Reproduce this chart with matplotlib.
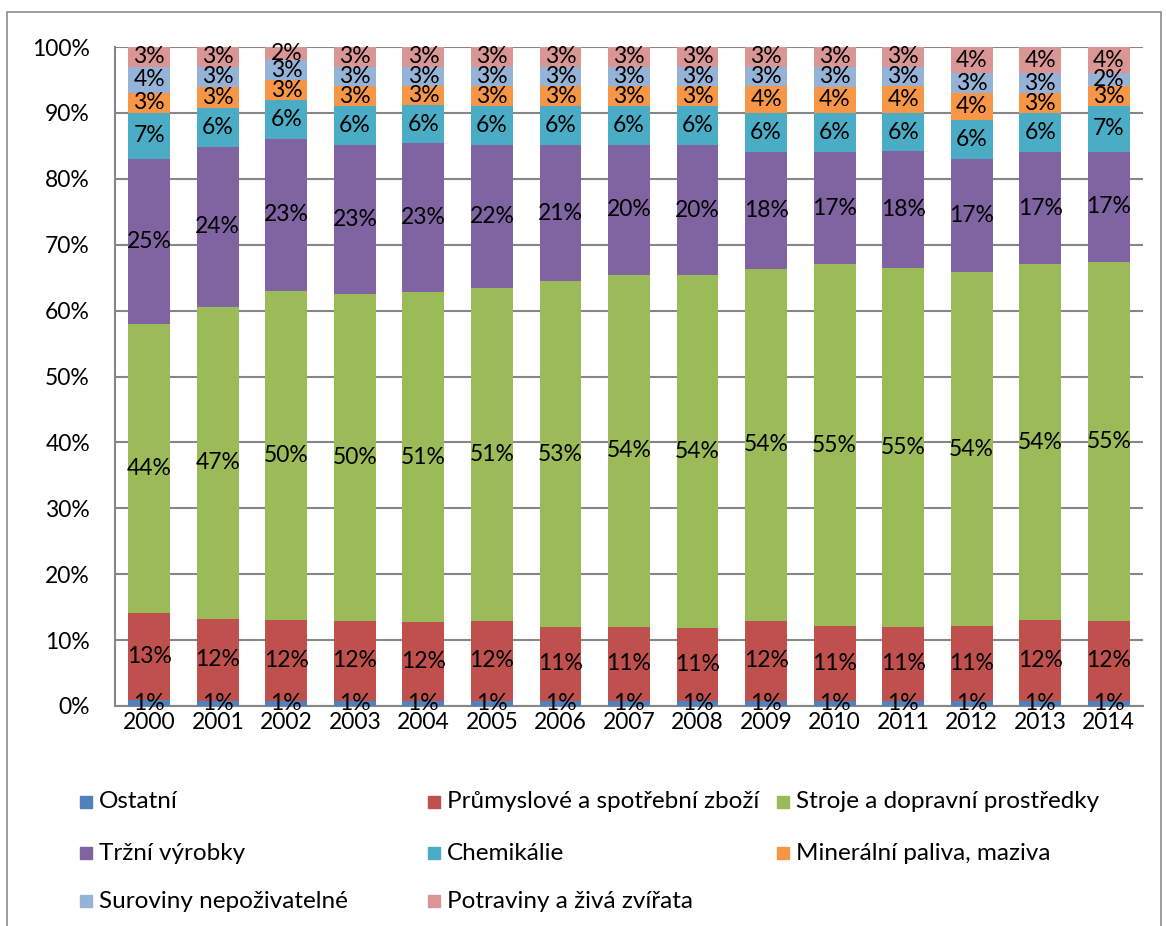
import numpy as np
import matplotlib
matplotlib.use('Agg')
import matplotlib.pyplot as plt
from matplotlib.patches import Rectangle

plt.rcParams['font.family'] = ['Lato', 'DejaVu Sans']

years = ['2000', '2001', '2002', '2003', '2004', '2005', '2006', '2007',
         '2008', '2009', '2010', '2011', '2012', '2013', '2014']

# shares in % (bars are normalised to 100 %)
ostatni   = [0.9, 0.8, 0.8, 0.8, 0.8, 0.8, 0.8, 0.8, 0.8, 0.8, 0.8, 0.8, 0.8, 0.8, 0.8]
prumysl   = [13.3, 12.4, 12.3, 12.2, 12.0, 12.1, 11.2, 11.2, 11.1, 12.1, 11.3, 11.2, 11.3, 12.3, 12.1]
stroje    = [44.0, 47.4, 49.9, 49.6, 50.6, 50.6, 52.6, 53.6, 53.6, 53.6, 54.9, 54.6, 53.7, 53.9, 54.6]
trzni     = [25.1, 24.2, 23.1, 22.7, 22.8, 21.8, 20.7, 19.7, 19.8, 17.8, 17.0, 17.8, 17.2, 17.0, 16.8]
chemie    = [7.1, 6.0, 5.8, 5.9, 5.8, 5.9, 5.9, 5.9, 5.9, 5.9, 6.0, 5.9, 5.9, 6.0, 6.9]
paliva    = [3.0, 3.2, 3.1, 3.0, 3.0, 3.0, 3.0, 3.0, 3.0, 4.0, 4.0, 4.0, 4.1, 3.0, 3.0]
suroviny  = [4.0, 3.0, 3.0, 3.0, 2.9, 3.0, 3.0, 3.0, 3.0, 3.0, 3.0, 3.0, 3.0, 3.0, 2.0]
potraviny = [3.0, 3.0, 2.0, 3.0, 3.0, 3.0, 3.0, 3.0, 3.0, 3.0, 3.0, 3.0, 4.0, 4.0, 4.0]

series_names = ['Ostatní', 'Průmyslové a spotřební zboží', 'Stroje a dopravní prostředky',
                'Tržní výrobky', 'Chemikálie', 'Minerální paliva, maziva',
                'Suroviny nepoživatelné', 'Potraviny a živá zvířata']
series = [ostatni, prumysl, stroje, trzni, chemie, paliva, suroviny, potraviny]
colors = ['#4F81BD', '#C0504D', '#9BBB59', '#8064A2', '#4BACC6', '#F79646', '#95B3D7', '#DA9694']

data = np.array(series)
shares = data / data.sum(axis=0) * 100

fig = plt.figure(figsize=(11.66, 9.26), dpi=100)
ax = fig.add_axes([115 / 1166, 1 - 706 / 926, (1143 - 115) / 1166, (706 - 47) / 926])

x = np.arange(len(years))
bottom = np.zeros(len(years))
for i in range(len(series)):
    ax.bar(x, shares[i], 0.61, bottom=bottom, color=colors[i], zorder=3)
    for j in range(len(years)):
        ax.text(x[j], bottom[j] + shares[i][j] / 2, '{0:.0f}%'.format(data[i][j]),
                ha='center', va='center', fontsize=16.5, color='black', zorder=4)
    bottom += shares[i]

ax.set_xlim(-0.5, len(years) - 0.5)
ax.set_ylim(0, 100)
ax.set_yticks(np.arange(0, 101, 10))
ax.set_yticklabels(['{0}%'.format(v) for v in range(0, 101, 10)])
ax.set_xticks(x)
ax.set_xticklabels(years)
ax.tick_params(axis='y', length=0, pad=18, labelsize=16.5)
ax.tick_params(axis='x', length=0, pad=4, labelsize=16.5)
ax.grid(axis='y', color='#868686', linewidth=1.5, zorder=0)
ax.set_axisbelow(True)
for s in ['top', 'right']:
    ax.spines[s].set_visible(False)
for s in ['left', 'bottom']:
    ax.spines[s].set_color('#868686')
    ax.spines[s].set_linewidth(1.5)

# legend, row by row like in the original (three equal columns)
leg_x = [80, 428, 777]
leg_y = [802, 853, 901]
for i, name in enumerate(series_names):
    px = leg_x[i % 3]
    py = leg_y[i // 3]
    fig.patches.append(Rectangle((px / 1166, 1 - (py + 6) / 926), 12 / 1166, 12 / 926,
                                 transform=fig.transFigure, color=colors[i]))
    fig.text((px + 19) / 1166, 1 - py / 926, name, ha='left', va='center', fontsize=17.5)

# chart area border
fig.patches.append(Rectangle((7 / 1166, -0.02), 1154 / 1166, 1.02 - 12 / 926,
                             transform=fig.transFigure, fill=False,
                             edgecolor='#8c8c8c', linewidth=1.2))

fig.savefig('out.png', dpi=100)
